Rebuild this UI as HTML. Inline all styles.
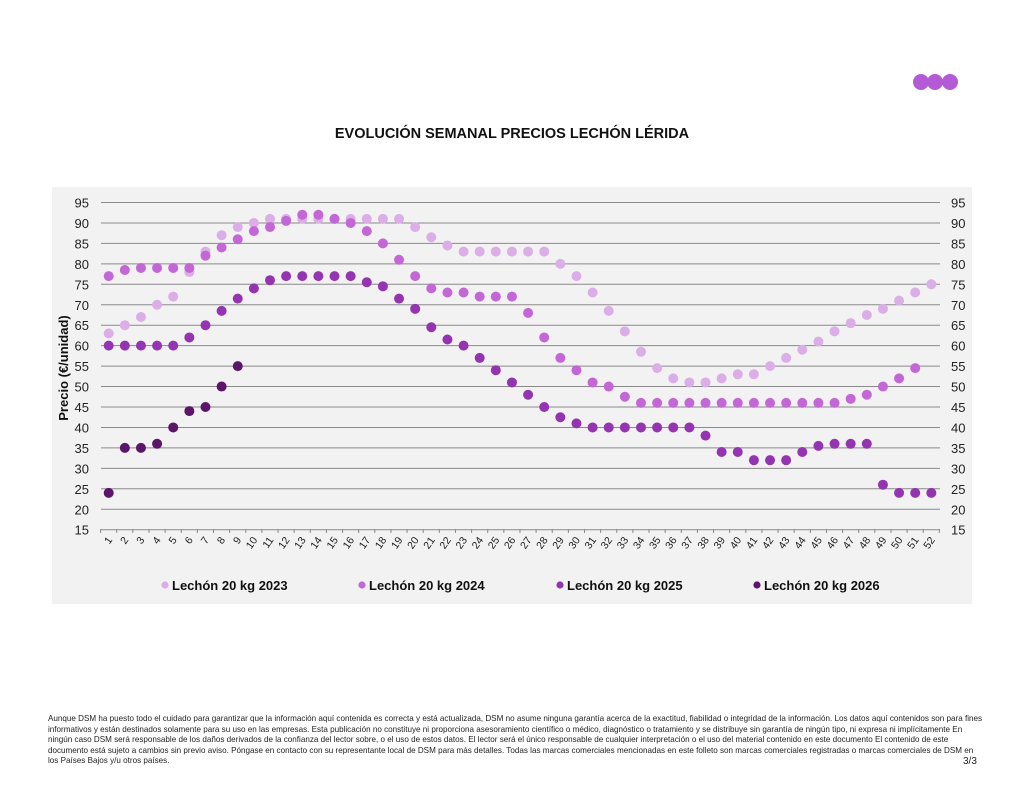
<!DOCTYPE html>
<html><head><meta charset="utf-8"><style>
body{margin:0;width:1024px;height:791px;background:#fff;position:relative;font-family:"Liberation Sans",sans-serif;overflow:hidden}
.foot{position:absolute;left:48px;top:714px;width:935px;font-size:8.1px;line-height:10.5px;color:#222}
</style></head><body>
<svg id="s" width="1024" height="791" style="position:absolute;left:0;top:0" font-family="Liberation Sans, sans-serif"></svg>
<div class="foot">Aunque DSM ha puesto todo el cuidado para garantizar que la información aquí contenida es correcta y está actualizada, DSM no asume ninguna garantía acerca de la exactitud, fiabilidad o integridad de la información. Los datos aquí contenidos son para fines informativos y están destinados solamente para su uso en las empresas. Esta publicación no constituye ni proporciona asesoramiento científico o médico, diagnóstico o tratamiento y se distribuye sin garantía de ningún tipo, ni expresa ni implícitamente En ningún caso DSM será responsable de los daños derivados de la confianza del lector sobre, o el uso de estos datos. El lector será el único responsable de cualquier interpretación o el uso del material contenido en este documento El contenido de este documento está sujeto a cambios sin previo aviso. Póngase en contacto con su representante local de DSM para más detalles. Todas las marcas comerciales mencionadas en este folleto son marcas comerciales registradas o marcas comerciales de DSM en los Países Bajos y/u otros países.</div>
<script>
var s='';
s+='<circle cx="921" cy="82" r="8" fill="#b55ad6"/><circle cx="935" cy="82" r="8" fill="#b55ad6"/><circle cx="950" cy="82" r="8" fill="#b55ad6"/>';
s+='<text x="512" y="138" text-anchor="middle" font-size="14.5" font-weight="bold" fill="#111">EVOLUCIÓN SEMANAL PRECIOS LECHÓN LÉRIDA</text>';
s+='<rect x="52" y="187" width="920" height="417" fill="#f2f2f2"/>';
function Y(v){return 202.5+(95-v)*4.09;}
function X(w){return 108.7+(w-1)*16.13;}
for(var v=15;v<=95;v+=5){var y=Y(v);
 s+='<line x1="101" x2="940" y1="'+y+'" y2="'+y+'" stroke="#8a8a8a" stroke-width="1"/>';
 s+='<text x="89" y="'+(y+5)+'" text-anchor="end" font-size="13" fill="#222">'+v+'</text>';
 s+='<text x="951" y="'+(y+5)+'" font-size="13" fill="#222">'+v+'</text>';}
for(var w=1;w<=53;w++){var x=100.6+(w-1)*16.13;s+='<line x1="'+x+'" x2="'+x+'" y1="529" y2="533" stroke="#888"/>';}
for(var w=1;w<=52;w++){var x=X(w)+4;s+='<text transform="translate('+x+',540) rotate(-55)" text-anchor="end" font-size="10.5" fill="#222">'+w+'</text>';}
s+='<text transform="translate(68,368) rotate(-90)" text-anchor="middle" font-size="13" font-weight="bold" fill="#111">Precio (€/unidad)</text>';
var d23=[63,65,67,70,72,78,83,87,89,90,91,91,91,91,91,91,91,91,91,89,86.5,84.5,83,83,83,83,83,83,80,77,73,68.5,63.5,58.5,54.5,52,51,51,52,53,53,55,57,59,61,63.5,65.5,67.5,69,71,73,75];
var d24=[77,78.5,79,79,79,79,82,84,86,88,89,90.5,92,92,91,90,88,85,81,77,74,73,73,72,72,72,68,62,57,54,51,50,47.5,46,46,46,46,46,46,46,46,46,46,46,46,46,47,48,50,52,54.5];
var d25=[60,60,60,60,60,62,65,68.5,71.5,74,76,77,77,77,77,77,75.5,74.5,71.5,69,64.5,61.5,60,57,54,51,48,45,42.5,41,40,40,40,40,40,40,40,38,34,34,32,32,32,34,35.5,36,36,36,26,24,24,24];
var d26=[24,35,35,36,40,44,45,50,55];
var ser=[[d23,'#dcaee8'],[d24,'#c467d6'],[d25,'#9434b0'],[d26,'#5b1569']];
ser.forEach(function(p){p[0].forEach(function(v,i){s+='<circle cx="'+X(i+1)+'" cy="'+Y(v)+'" r="5" fill="'+p[1]+'"/>';});});
var lg=[[165,'Lechón 20 kg 2023'],[362,'Lechón 20 kg 2024'],[560,'Lechón 20 kg 2025'],[757,'Lechón 20 kg 2026']];
lg.forEach(function(l,i){s+='<circle cx="'+l[0]+'" cy="585" r="3.6" fill="'+ser[i][1]+'"/><text x="'+(l[0]+7)+'" y="590" font-size="13" font-weight="bold" fill="#111">'+l[1]+'</text>';});
s+='<text x="963" y="764" font-size="10" fill="#222">3/3</text>';
document.getElementById('s').innerHTML=s;
</script>
</body></html>
